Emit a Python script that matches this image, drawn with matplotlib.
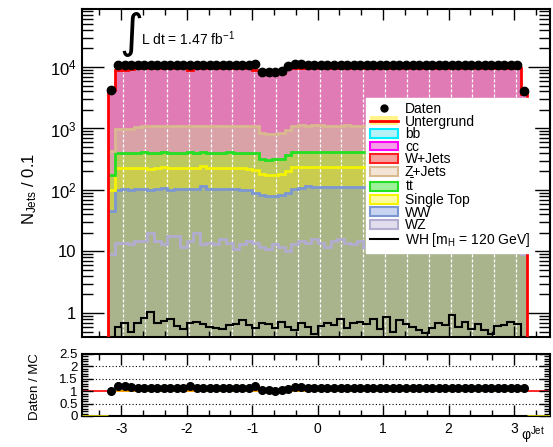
import numpy as np
import matplotlib
matplotlib.use("Agg")
import matplotlib.pyplot as plt
from matplotlib.patches import Patch
from matplotlib.lines import Line2D
from matplotlib.ticker import MultipleLocator, FixedLocator, FuncFormatter, NullFormatter

plt.rcParams.update({
    "font.family": "Liberation Sans",
    "mathtext.fontset": "custom",
    "mathtext.rm": "Liberation Sans",
    "mathtext.it": "Liberation Sans:italic",
    "mathtext.bf": "Liberation Sans:bold",
})

# =============================
#  Histogram contents (phi^Jet, 64 bins of 0.1)
# =============================
edges = np.round(np.linspace(-3.2, 3.2, 65), 2)

daten = [4200, 10700, 10900, 10950, 10850, 10900, 10850, 10900,
         10850, 10900, 10800, 10900, 10850, 10900, 10850, 10800,
         10900, 10850, 10800, 10850, 10900, 10850, 11000, 8400,
         8300, 8250, 8600, 10500, 11050, 11100, 10950, 10900,
         10850, 10800, 10900, 10850, 10800, 10900, 10850, 10800,
         10850, 10900, 10950, 10850, 10800, 10850, 10900, 10850,
         10800, 10750, 10800, 10850, 10800, 10750, 10800, 10850,
         10800, 10850, 10900, 10850, 10800, 10850, 10750, 4100]

wz = [9, 14, 14, 13, 15, 15, 20, 15, 13, 18, 18, 12, 15, 20, 13, 14,
      13, 16, 14, 11, 13, 15, 14, 12, 11, 13, 12, 10, 13, 15, 14, 16,
      14, 12, 15, 16, 14, 13, 15, 12, 14, 13, 12, 14, 13, 15, 14, 13,
      12, 14, 13, 15, 14, 13, 12, 14, 13, 15, 14, 13, 12, 14, 13, 9]

ww = [36, 85, 88, 86, 88, 90, 80, 88, 95, 82, 84, 92, 88, 82, 105, 90,
      92, 86, 88, 92, 88, 84, 76, 70, 68, 66, 70, 78, 92, 94, 100, 96,
      98, 100, 96, 95, 97, 98, 96, 99, 97, 96, 98, 97, 95, 96, 97, 95,
      98, 96, 97, 95, 96, 98, 97, 95, 96, 97, 98, 96, 97, 95, 96, 38]

single_top = [55, 125, 122, 128, 124, 126, 122, 125, 127, 124, 126, 123, 125, 128, 126, 124,
              122, 125, 127, 124, 126, 123, 125, 98, 96, 99, 97, 118, 128, 126, 124, 127,
              125, 123, 126, 124, 127, 125, 123, 126, 124, 125, 127, 124, 126, 125, 123, 126,
              124, 127, 125, 123, 126, 124, 125, 127, 124, 126, 123, 125, 124, 126, 125, 54]

ttbar = [78, 176, 178, 174, 180, 177, 175, 179, 176, 178, 174, 177, 180, 176, 175, 178,
         177, 174, 179, 176, 178, 175, 180, 138, 136, 140, 137, 165, 182, 184, 180, 183,
         181, 179, 182, 180, 183, 181, 178, 182, 180, 181, 183, 179, 182, 181, 178, 182,
         180, 183, 181, 179, 182, 180, 181, 183, 180, 182, 179, 181, 180, 182, 181, 77]

zjets = [250, 570, 575, 585, 665, 672, 690, 685, 688, 692, 685, 690, 688, 694, 686, 690,
         692, 688, 690, 686, 694, 690, 720, 520, 515, 510, 518, 580, 690, 700, 695, 698,
         702, 696, 694, 700, 698, 695, 700, 697, 694, 699, 701, 696, 698, 700, 695, 697,
         699, 696, 700, 698, 694, 697, 699, 695, 698, 700, 696, 697, 699, 695, 698, 250]

wjets = [3270, 6680, 6750, 7250, 7300, 7330, 7280, 7350, 7300, 7330, 7280, 7350, 6770, 7300, 7330, 7280,
         7350, 7300, 7330, 7280, 7350, 7300, 6730, 6300, 6250, 6280, 6350, 7490, 7300, 7350, 7320, 7330,
         7300, 7350, 7280, 7330, 7300, 7350, 7320, 7280, 7330, 7300, 7350, 7320, 7280, 7330, 7300, 7350,
         7280, 7320, 7300, 7330, 7280, 7300, 7350, 7320, 7280, 7330, 7300, 7350, 7320, 7280, 7300, 2770]

cc = [390, 880, 885, 900, 905, 898, 902, 895, 900, 904, 897, 901, 899, 903, 896, 900,
      902, 898, 901, 897, 903, 899, 900, 720, 715, 718, 722, 850, 905, 902, 898, 901,
      899, 903, 897, 900, 902, 898, 901, 899, 897, 903, 900, 902, 898, 901, 899, 900,
      903, 897, 901, 899, 902, 898, 900, 903, 897, 901, 899, 902, 898, 900, 901, 380]

bb = [115, 262, 265, 270, 272, 268, 271, 269, 270, 272, 268, 271, 269, 270, 272, 268,
      271, 269, 270, 272, 268, 271, 270, 215, 213, 216, 218, 255, 272, 270, 268, 271,
      269, 270, 272, 268, 271, 269, 270, 272, 268, 271, 269, 270, 272, 268, 271, 269,
      270, 272, 268, 271, 269, 270, 272, 268, 271, 269, 270, 272, 268, 271, 270, 112]

wh_signal = [0.30, 0.60, 0.68, 0.50, 0.68, 0.82, 1.05, 0.68, 0.75, 0.80, 0.62, 0.55, 0.70, 0.72, 0.66, 0.60,
             0.58, 0.55, 0.64, 0.66, 0.78, 0.64, 0.56, 0.70, 0.66, 0.58, 0.72, 0.60, 0.52, 0.70, 0.60, 0.46,
             0.62, 0.70, 0.64, 0.80, 0.58, 0.70, 0.72, 0.66, 0.80, 0.55, 0.85, 0.50, 0.78, 0.66, 0.60, 0.52,
             0.48, 0.58, 0.70, 0.64, 0.92, 0.60, 0.72, 0.54, 0.66, 0.52, 0.46, 0.62, 0.64, 0.72, 0.66, 0.30]

# stack order (bottom -> top): values, fill colour, outline colour
stack = [
    (wz,         "#a9b48d", "#b2acd0"),
    (ww,         "#a9b585", "#7c97d2"),
    (single_top, "#c9cc4e", "#f4f400"),
    (ttbar,      "#bcc95e", "#22e022"),
    (zjets,      "#d9a2a6", "#d9b98f"),
    (wjets,      "#e07bb6", None),
    (cc,         "#e07bb6", None),
    (bb,         "#e07bb6", None),
]

W, H = 553, 447
fig = plt.figure(figsize=(W / 100, H / 100), dpi=100)

def box(x0, y0, x1, y1):
    return [x0 / W, 1 - y1 / H, (x1 - x0) / W, (y1 - y0) / H]

ax = fig.add_axes(box(82, 9, 550, 337))
axr = fig.add_axes(box(82, 354, 550, 416))

# --- stacked backgrounds ---
ax.set_yscale("log")
bottom = np.full(64, 1e-3)
for vals, fc, ec in stack:
    top = bottom + np.asarray(vals, float)
    ax.stairs(top, edges, baseline=bottom, fill=True, color=fc, lw=0, zorder=1)
    bottom = top
total = bottom

# white dashed pattern lines (ROOT fill style look)
for xv in np.arange(-9, 10) / 3.0:
    ax.axvline(xv + 0.03, color="white", lw=0.9, ls=(0, (2.5, 1.5)), zorder=2)

bottom = np.full(64, 1e-3)
for vals, fc, ec in stack:
    bottom = bottom + np.asarray(vals, float)
    if ec is not None:
        ax.stairs(bottom, edges, baseline=None, color=ec, lw=2, zorder=3)
ax.stairs(total, edges, baseline=1e-3, color="red", lw=2, zorder=4)

ax.stairs(wh_signal, edges, baseline=None, color="black", lw=1.5, zorder=4)

centers = 0.5 * (edges[:-1] + edges[1:])
ax.plot(centers, daten, "o", color="black", ms=6, zorder=6, clip_on=False)

ax.set_xlim(-3.6, 3.55)
ax.set_ylim(0.407, 87700)
ax.xaxis.set_major_locator(MultipleLocator(1))
ax.xaxis.set_minor_locator(MultipleLocator(1 / 3))
ax.xaxis.set_major_formatter(NullFormatter())
ax.yaxis.set_major_locator(FixedLocator([1, 10, 100, 1000, 10000]))
ax.yaxis.set_minor_locator(FixedLocator([m * 10.0 ** e for e in range(-1, 5) for m in range(2, 10)]))
ylab = {1: "1", 10: "10", 100: r"$10^{2}$", 1000: r"$10^{3}$", 10000: r"$10^{4}$"}
ax.yaxis.set_major_formatter(FuncFormatter(lambda v, p: ylab.get(int(round(v)), "")))
ax.yaxis.set_minor_formatter(NullFormatter())
ax.tick_params(axis="both", which="both", direction="in", top=True, right=True, width=1)
ax.tick_params(axis="y", which="major", length=16, labelsize=12, pad=4)
ax.tick_params(axis="y", which="minor", length=8)
ax.tick_params(axis="x", which="major", length=8)
ax.tick_params(axis="x", which="minor", length=4)
for s in ax.spines.values():
    s.set_linewidth(1.5)

# --- legend ---
handles = [
    Line2D([], [], marker="o", color="black", ls="none", ms=5),
    (Patch(facecolor="#fff38a", edgecolor="none"), Line2D([], [], color="red", lw=2)),
    Patch(facecolor="#b6f2f8", edgecolor="#00eeff", lw=1.5),
    Patch(facecolor="#f4a0e8", edgecolor="#ff00ff", lw=1.5),
    Patch(facecolor="#f6a0a0", edgecolor="#ff2020", lw=1.5),
    Patch(facecolor="#f3e4d6", edgecolor="#d9b98f", lw=1.5),
    Patch(facecolor="#9ef09a", edgecolor="#22e022", lw=1.5),
    Patch(facecolor="#fdfda0", edgecolor="#f4f400", lw=1.5),
    Patch(facecolor="#c8d4f0", edgecolor="#7c97d2", lw=1.5),
    Patch(facecolor="#e2ddee", edgecolor="#b2acd0", lw=1.5),
    Line2D([], [], color="black", lw=1.5),
]
labels = ["Daten", "Untergrund", "bb", "cc", "W+Jets", "Z+Jets", r"t$\bar{\rm t}$",
          "Single Top", "WW", "WZ", r"WH [m$_{\rm H}$ = 120 GeV]"]
leg = ax.legend(handles, labels, loc="upper left", bbox_to_anchor=(0.607, 0.729),
                fontsize=10, frameon=True, fancybox=False, framealpha=1, edgecolor="white",
                borderpad=0.3, labelspacing=-0.1, handlelength=2.0, handleheight=0.6,
                handletextpad=0.5, borderaxespad=0)
leg.set_zorder(5)

# --- text ---
fig.text(119 / W, 1 - 47 / H, "\u222b", fontsize=33, family="DejaVu Sans", ha="left", va="baseline")
fig.text(141 / W, 1 - 45 / H, r"L dt = 1.47 fb$^{-1}$", fontsize=10, ha="left", va="baseline")
fig.text(30 / W, 1 - 189 / H, r"N$_{\rm Jets}$ / 0.1", fontsize=12, rotation=90, ha="center", va="center")

# --- ratio panel ---
ratio = np.asarray(daten, float) / total
axr.stairs(np.full(64, 1.03), edges, baseline=np.full(64, 0.97), fill=True, color="#ffa200", lw=0, zorder=2)
axr.axhline(1, color="red", lw=1.2, zorder=1)
for yv in (0.5, 1.5, 2.0):
    axr.axhline(yv, color="black", lw=0.8, ls=(0, (1, 2)), zorder=1)
axr.hlines(0, -3.6, edges[0], color="#c8c800", lw=2, zorder=3)
axr.hlines(0, edges[-1], 3.55, color="#c8c800", lw=2, zorder=3)
axr.plot(centers, ratio, "o", color="black", ms=5.5, zorder=4)
axr.set_xlim(-3.6, 3.55)
axr.set_ylim(0, 2.5)
axr.xaxis.set_major_locator(MultipleLocator(1))
axr.xaxis.set_minor_locator(MultipleLocator(1 / 3))
axr.xaxis.set_major_formatter(FuncFormatter(lambda v, p: "%g" % v))
axr.yaxis.set_major_locator(MultipleLocator(0.5))
axr.yaxis.set_minor_locator(MultipleLocator(0.1))
axr.yaxis.set_major_formatter(FuncFormatter(lambda v, p: "%g" % v))
axr.tick_params(axis="both", which="both", direction="in", top=True, right=True, width=1)
axr.tick_params(axis="both", which="major", length=8)
axr.tick_params(axis="both", which="minor", length=4)
axr.tick_params(axis="x", labelsize=10, pad=4)
axr.tick_params(axis="y", labelsize=9.5, pad=3)
for s in axr.spines.values():
    s.set_linewidth(1.5)

fig.text(35 / W, 1 - 387 / H, "Daten / MC", fontsize=9.5, rotation=90, ha="center", va="center")
fig.text(521 / W, 1 - 440 / H, "\u03c6$^{\\rm Jet}$", fontsize=10, ha="left", va="baseline")

fig.savefig("out.png", dpi=100)
